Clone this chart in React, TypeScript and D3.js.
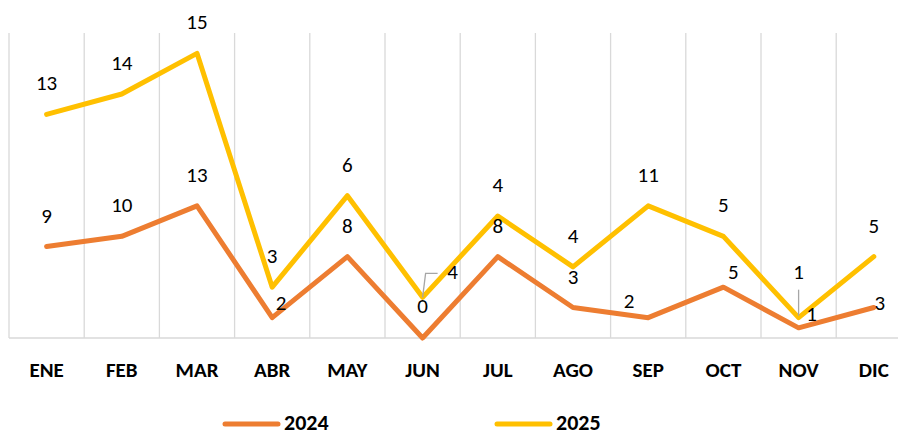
import React, { useEffect, useRef } from 'react';
import * as d3 from 'd3';

const months = ['ENE', 'FEB', 'MAR', 'ABR', 'MAY', 'JUN', 'JUL', 'AGO', 'SEP', 'OCT', 'NOV', 'DIC'];
const values2024 = [9, 10, 13, 2, 8, 0, 8, 3, 2, 5, 1, 3];
const values2025 = [13, 14, 15, 3, 6, 4, 4, 4, 11, 5, 1, 5];
const seriesNames = ['2024', '2025'];
const colors = ['#ED7D31', '#FFC000'];

const FONT = 'Carlito, Lato, "Open Sans", sans-serif';

export default function App() {
  const ref = useRef<SVGSVGElement>(null);

  useEffect(() => {
    const W = 898, H = 435;
    const margin = { top: 33, left: 9, bottom: 97 };
    const svg = d3.select(ref.current).attr('width', W).attr('height', H);
    svg.selectAll('*').remove();

    // band width runs past the right edge, like the original crop
    const bw = 75.2;
    const x = d3.scaleBand<string>().domain(months).range([margin.left, margin.left + bw * months.length]);
    const y = d3.scaleLinear().domain([0, 30]).range([H - margin.bottom, margin.top]);

    const stacked = values2024.map((v, i) => v + values2025[i]);

    // vertical gridlines
    svg.append('g').selectAll('line').data(months).join('line')
      .attr('x1', d => x(d)!).attr('x2', d => x(d)!)
      .attr('y1', y(30)).attr('y2', y(0))
      .attr('stroke', '#d9d9d9').attr('stroke-width', 1.3);
    svg.append('line')
      .attr('x1', margin.left).attr('x2', W).attr('y1', y(0)).attr('y2', y(0))
      .attr('stroke', '#d9d9d9').attr('stroke-width', 1.3);

    // axis labels
    svg.append('g').selectAll('text').data(months).join('text')
      .attr('x', d => x(d)! + bw / 2).attr('y', 377)
      .attr('text-anchor', 'middle')
      .attr('font-family', FONT).attr('font-weight', 'bold').attr('font-size', 21)
      .attr('fill', '#000').text(d => d);

    const cx = (i: number) => x(months[i])! + bw / 2;
    const line = d3.line<number>().x((_, i) => cx(i)).y(d => y(d));

    [values2024, stacked].forEach((arr, k) => {
      svg.append('path').datum(arr)
        .attr('d', line)
        .attr('fill', 'none').attr('stroke', colors[k]).attr('stroke-width', 5)
        .attr('stroke-linejoin', 'round').attr('stroke-linecap', 'round');
    });

    // leader lines
    const g = svg.append('g').attr('stroke', '#a6a6a6').attr('stroke-width', 1.3).attr('fill', 'none');
    g.append('path').attr('d', `M${cx(5)},${y(stacked[5])} L${cx(5) + 3},${y(stacked[5]) - 24} L${cx(5) + 15},${y(stacked[5]) - 24}`);
    g.append('path').attr('d', `M${cx(10)},${y(stacked[10]) - 2} L${cx(10)},${y(stacked[10]) - 28}`);

    // label offsets [dx, dy] relative to point (text baseline)
    const off2024: Record<number, [number, number]> = {
      3: [9, -8], 5: [0, -25], 7: [0, -24], 8: [-19, -10], 9: [10, -8], 10: [13, -7], 11: [6, 2],
    };
    const off2025: Record<number, [number, number]> = {
      3: [0, -24], 5: [30, -18], 10: [0, -39],
    };
    const labels = (vals: number[], pos: number[], off: Record<number, [number, number]>) => {
      svg.append('g').selectAll('text').data(vals).join('text')
        .attr('x', (_, i) => cx(i) + (off[i] ? off[i][0] : 0))
        .attr('y', (_, i) => y(pos[i]) + (off[i] ? off[i][1] : -24))
        .attr('text-anchor', 'middle')
        .attr('font-family', FONT).attr('font-size', 21).attr('fill', '#000')
        .text(d => d);
    };
    labels(values2024, values2024, off2024);
    labels(values2025, stacked, off2025);

    // legend
    const legend = [{ x: 225 }, { x: 497 }];
    legend.forEach((l, k) => {
      svg.append('line').attr('x1', l.x).attr('x2', l.x + 53).attr('y1', 424).attr('y2', 424)
        .attr('stroke', colors[k]).attr('stroke-width', 5).attr('stroke-linecap', 'round');
      svg.append('text').attr('x', l.x + 59).attr('y', 430)
        .attr('font-family', FONT).attr('font-weight', 'bold').attr('font-size', 22)
        .attr('fill', '#000').text(seriesNames[k]);
    });
  }, []);

  return <svg ref={ref} style={{ position: 'absolute', left: 0, top: 0, background: '#fff' }} />;
}
